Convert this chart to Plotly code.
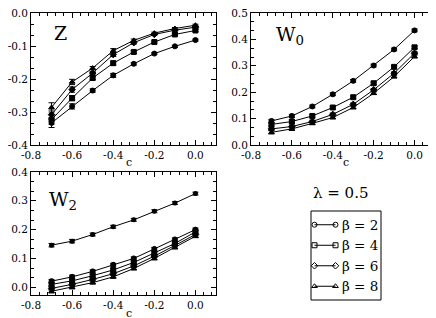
import plotly.graph_objects as go

c = [-0.7, -0.6, -0.5, -0.4, -0.3, -0.2, -0.1, 0.0]
betas = ["β = 2", "β = 4", "β = 6", "β = 8"]
symbols = ["circle", "square", "diamond", "triangle-up"]

# Z panel
z_b2 = [-0.333, -0.283, -0.235, -0.189, -0.154, -0.123, -0.101, -0.082]
z_b4 = [-0.323, -0.258, -0.197, -0.152, -0.118, -0.088, -0.065, -0.053]
z_b6 = [-0.308, -0.232, -0.182, -0.126, -0.090, -0.065, -0.052, -0.043]
z_b8 = [-0.286, -0.209, -0.167, -0.114, -0.083, -0.061, -0.047, -0.037]
z_err = [0.014, 0.008, 0.005, 0.006, 0.004, 0.003, 0.003, 0.003]

# W0 panel
w0_b2 = [0.091, 0.110, 0.146, 0.192, 0.243, 0.301, 0.362, 0.434]
w0_b4 = [0.078, 0.089, 0.110, 0.142, 0.181, 0.234, 0.296, 0.370]
w0_b6 = [0.061, 0.070, 0.089, 0.116, 0.154, 0.209, 0.272, 0.348]
w0_b8 = [0.048, 0.061, 0.082, 0.104, 0.142, 0.196, 0.259, 0.335]
w0_err = [0.006, 0.006, 0.005, 0.005, 0.005, 0.005, 0.005, 0.005]

# W2 panel
w2_top = [0.146, 0.160, 0.183, 0.210, 0.234, 0.264, 0.292, 0.325]
w2_b2 = [0.021, 0.036, 0.055, 0.078, 0.100, 0.133, 0.166, 0.200]
w2_b4 = [0.010, 0.022, 0.040, 0.060, 0.086, 0.118, 0.152, 0.192]
w2_b6 = [-0.004, 0.010, 0.027, 0.047, 0.074, 0.108, 0.145, 0.183]
w2_b8 = [-0.014, 0.000, 0.016, 0.036, 0.065, 0.100, 0.138, 0.177]
w2_err = [0.006, 0.006, 0.005, 0.005, 0.005, 0.005, 0.005, 0.005]

# tick labels
x_tickvals = [-0.8, -0.6, -0.4, -0.2, 0.0]
x_ticktext = ["-0.8", "-0.6", "-0.4", "-0.2", "0.0"]
z_tickvals = [-0.4, -0.3, -0.2, -0.1, 0.0]
z_ticktext = ["-0.4", "-0.3", "-0.2", "-0.1", "0.0"]
w0_tickvals = [0.0, 0.1, 0.2, 0.3, 0.4, 0.5]
w0_ticktext = ["0.0", "0.1", "0.2", "0.3", "0.4", "0.5"]
w2_tickvals = [0.0, 0.1, 0.2, 0.3, 0.4]
w2_ticktext = ["0.0", "0.1", "0.2", "0.3", "0.4"]

legend_rows = [0, 1, 2, 3]

FONT = "DejaVu Serif"
fig = go.Figure()

panels = [
    ("x", "y", [z_b2, z_b4, z_b6, z_b8], z_err),
    ("x2", "y2", [w0_b2, w0_b4, w0_b6, w0_b8], w0_err),
    ("x3", "y3", [w2_b2, w2_b4, w2_b6, w2_b8], w2_err),
]

for xa, ya, series, err in panels:
    for vals, sym in zip(series, symbols):
        fig.add_trace(go.Scatter(
            x=c, y=vals, xaxis=xa, yaxis=ya, mode="lines+markers",
            line=dict(color="black", width=1),
            marker=dict(symbol=sym, size=5, color="black",
                        line=dict(color="black", width=1)),
            error_y=dict(type="data", array=err, color="black",
                         thickness=1, width=3),
            showlegend=False, hoverinfo="skip"))

fig.add_trace(go.Scatter(
    x=c, y=w2_top, xaxis="x3", yaxis="y3", mode="lines+markers",
    line=dict(color="black", width=1),
    marker=dict(symbol="circle", size=5, color="black"),
    error_y=dict(type="data", array=w2_err, color="black", thickness=1, width=3),
    showlegend=False, hoverinfo="skip"))

# custom legend samples (line with open markers at both ends)
for row, sym in zip(legend_rows, symbols):
    fig.add_trace(go.Scatter(
        x=[0.05, 0.35], y=[row, row], xaxis="x4", yaxis="y4",
        mode="lines+markers", line=dict(color="black", width=1),
        marker=dict(symbol=sym + "-open", size=5, color="black",
                    line=dict(color="black", width=1)),
        showlegend=False, hoverinfo="skip"))

W, H = 436, 318
def dx(a, b):
    return [a / W, b / W]
def dy(top, bot):
    return [1 - bot / H, 1 - top / H]

tfont = dict(family=FONT, size=10.5, color="black")
def axis_common(minor_dtick):
    return dict(ticks="inside", ticklen=5, tickwidth=1, tickcolor="black",
                showline=True, linecolor="black", linewidth=1, mirror="allticks",
                showgrid=False, zeroline=False, tickfont=tfont, automargin=False,
                ticklabeloverflow="allow",
                minor=dict(tickmode="linear", tick0=0, dtick=minor_dtick,
                           ticks="inside", ticklen=3, tickcolor="black",
                           showgrid=False))

def xax(domain, anchor):
    return dict(domain=domain, anchor=anchor, range=[-0.8, 0.1],
                tickmode="array", tickvals=x_tickvals, ticktext=x_ticktext,
                **axis_common(0.04))

def yax(domain, anchor, rng, tv, tt):
    return dict(domain=domain, anchor=anchor, range=rng,
                tickmode="array", tickvals=tv, ticktext=tt,
                **axis_common(0.1 / 3))

fig.update_layout(
    width=W, height=H, margin=dict(l=0, r=0, t=0, b=0, autoexpand=False),
    paper_bgcolor="white", plot_bgcolor="white",
    font=dict(family=FONT, color="black"),
    showlegend=False,
    xaxis=xax(dx(23, 208), "y"),
    yaxis=yax(dy(5, 137), "x", [-0.4, 0.0], z_tickvals, z_ticktext),
    xaxis2=xax(dx(243, 427), "y2"),
    yaxis2=yax(dy(5, 137), "x2", [0.0, 0.5], w0_tickvals, w0_ticktext),
    xaxis3=xax(dx(23, 208), "y3"),
    yaxis3=yax(dy(164, 287), "x3", [-0.027, 0.4], w2_tickvals, w2_ticktext),
    xaxis4=dict(domain=dx(303, 373), anchor="y4", range=[0, 1], visible=False,
                fixedrange=True, automargin=False),
    yaxis4=dict(domain=dy(203, 292), anchor="x4", range=[3.67, -0.67],
                visible=False, fixedrange=True, automargin=False),
)

# legend box
fig.add_shape(type="rect", xref="paper", yref="paper",
              x0=303 / W, x1=373 / W, y0=1 - 292 / H, y1=1 - 203 / H,
              line=dict(color="black", width=1), layer="below")

for row, name in zip(legend_rows, betas):
    fig.add_annotation(text=name, x=0.42, y=row, xref="x4", yref="y4",
                       showarrow=False, xanchor="left", yanchor="middle",
                       font=dict(family=FONT, size=13.5, color="black"))

def ann(text, x, y, size, xanchor="center"):
    fig.add_annotation(text=text, x=x / W, y=1 - y / H, xref="paper", yref="paper",
                       showarrow=False, xanchor=xanchor, yanchor="middle",
                       font=dict(family=FONT, size=size, color="black"))

ann("Z", 52, 25, 19)
ann("W<sub>0</sub>", 282, 28, 19)
ann("W<sub>2</sub>", 55, 192, 19)
ann("c", 121, 154, 11)
ann("c", 338, 154, 11)
ann("c", 121, 305, 11)
ann("λ = 0.5", 303, 185, 15, xanchor="left")

fig.write_html("out.html")
